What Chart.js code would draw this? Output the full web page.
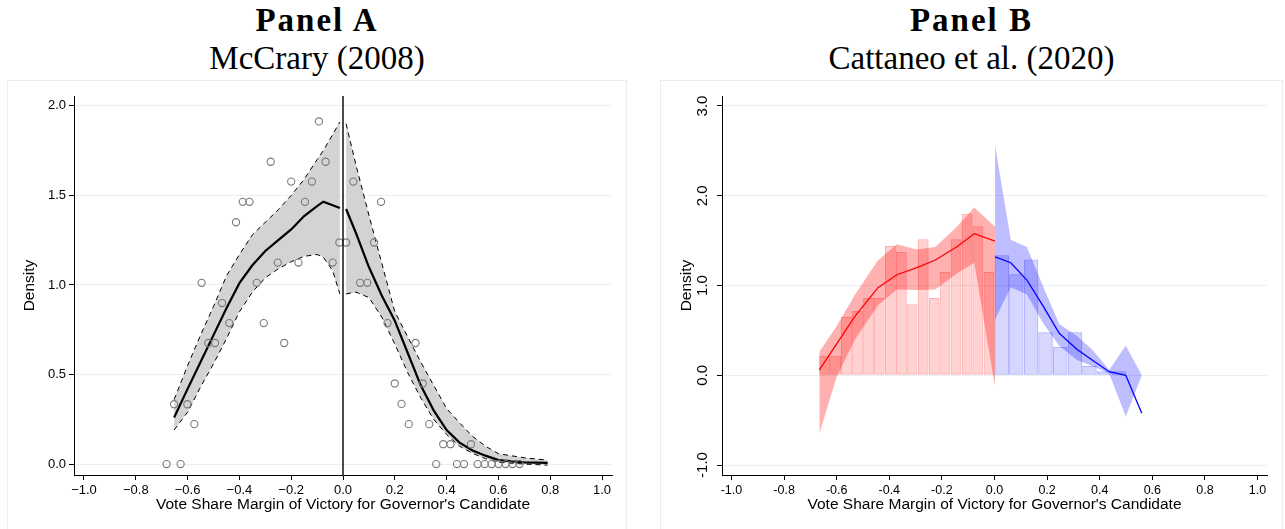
<!DOCTYPE html>
<html>
<head>
<meta charset="utf-8">
<script src="https://cdn.jsdelivr.net/npm/chart.js@4.4.1/dist/chart.umd.min.js"></script>
<style>
body { margin:0; background:#fff; width:1285px; height:529px; overflow:hidden; position:relative; }
.head { position:absolute; top:0; text-align:center; color:#000; font-family:"Liberation Serif", "Times New Roman", serif; }
.head .p { font-weight:bold; font-size:33px; letter-spacing:2px; line-height:36px; margin-top:2px; }
.head .s { font-size:33px; line-height:36px; margin-top:2px; }
.box { position:absolute; top:80px; height:449px; border:1px solid #e6eef0; border-bottom:none; }
canvas { display:block; }
</style>
</head>
<body>
<div class="head" style="left:7px;width:620px"><div class="p">Panel A</div><div class="s">McCrary (2008)</div></div>
<div class="head" style="left:660px;width:623px"><div class="p">Panel B</div><div class="s">Cattaneo et al. (2020)</div></div>
<div class="box" style="left:7px;width:618px"><canvas id="chartA" width="618" height="448"></canvas></div>
<div class="box" style="left:660px;width:621px"><canvas id="chartB" width="621" height="448"></canvas></div>
<script>
// ---- Panel A data (McCrary) ----
var binMidA = [-0.681,-0.652,-0.627,-0.601,-0.574,-0.546,-0.52,-0.494,-0.467,-0.439,-0.413,-0.387,-0.361,-0.333,-0.306,-0.279,-0.252,-0.227,-0.2,-0.172,-0.147,-0.12,-0.093,-0.067,-0.04,-0.014,
               0.012,0.04,0.066,0.094,0.12,0.147,0.172,0.2,0.226,0.254,0.28,0.308,0.333,0.36,0.387,0.415,0.44,0.467,0.494,0.52,0.547,0.574,0.601,0.628,0.655,0.682];
var binDensA = [0,0.334,0,0.334,0.223,1.012,0.676,0.676,0.899,0.787,1.35,1.464,1.464,1.012,0.787,1.688,1.125,0.676,1.577,1.125,1.464,1.577,1.913,1.688,1.125,1.237,
                1.237,1.577,1.012,1.012,1.237,1.464,0.787,0.45,0.336,0.223,0.676,0.45,0.223,0,0.111,0.111,0,0,0.111,0,0,0,0,0,0,0];

var fitLeftX = [-0.652,-0.6,-0.55,-0.5,-0.45,-0.4,-0.35,-0.3,-0.25,-0.2,-0.15,-0.1,-0.076,-0.04,-0.012];
var fitLeftY = [0.26,0.42,0.57,0.72,0.87,1.01,1.11,1.19,1.25,1.31,1.385,1.44,1.465,1.445,1.43];
var hiLeftY  = [0.36,0.55,0.72,0.88,1.05,1.17,1.28,1.35,1.42,1.5,1.59,1.7,1.75,1.84,1.91];
var loLeftY  = [0.19,0.29,0.43,0.56,0.7,0.85,0.96,1.04,1.09,1.13,1.16,1.17,1.155,1.08,0.95];

var fitRightX = [0.012,0.05,0.1,0.15,0.2,0.25,0.3,0.35,0.4,0.45,0.5,0.55,0.6,0.7,0.79];
var fitRightY = [1.424,1.29,1.1,0.94,0.8,0.62,0.44,0.3,0.19,0.12,0.076,0.047,0.022,0.01,0.007];
var hiRightY  = [1.9,1.67,1.39,1.12,0.85,0.71,0.57,0.44,0.31,0.23,0.155,0.1,0.058,0.035,0.022];
var loRightY  = [0.95,0.96,0.93,0.82,0.67,0.51,0.37,0.25,0.165,0.1,0.06,0.03,0.01,0.0,-0.006];

var cutoff = 0;
var xTicksA = [-1,-0.8,-0.6,-0.4,-0.2,0,0.2,0.4,0.6,0.8,1];
var xTickLabelsA = ['\u22121.0','\u22120.8','\u22120.6','\u22120.4','\u22120.2','0.0','0.2','0.4','0.6','0.8','1.0'];
var yTicksA = [0,0.5,1,1.5,2];
var yTickLabelsA = ['0.0','0.5','1.0','1.5','2.0'];

// ---- Panel B data (Cattaneo et al.) ----
var redBinMid = [-0.646,-0.604,-0.563,-0.521,-0.479,-0.438,-0.396,-0.354,-0.313,-0.271,-0.229,-0.188,-0.146,-0.104,-0.063,-0.021];
var redBinHeight = [0.218,0.218,0.649,0.716,0.861,0.861,1.44,1.373,0.79,1.514,0.861,1.15,1.514,1.8,1.659,1.15];
var blueBinMid = [0.028,0.083,0.139,0.194,0.25,0.306,0.361,0.417,0.472];
var blueBinHeight = [1.336,1.125,1.29,0.478,0.319,0.478,0.104,0.045,0.045];

var redX  = [-0.666,-0.6,-0.53,-0.443,-0.371,-0.295,-0.225,-0.143,-0.077,0.002];
var redY  = [0.06,0.35,0.66,0.976,1.12,1.2,1.284,1.432,1.577,1.495];
var redHi = [0.26,0.55,0.9,1.28,1.46,1.4,1.43,1.655,1.87,1.655];
var redLo = [-0.65,-0.02,0.4,0.78,0.955,0.95,0.955,1.135,1.254,-0.127];

var blueX  = [0.002,0.062,0.123,0.185,0.246,0.313,0.374,0.436,0.499,0.56];
var blueY  = [1.32,1.254,1.061,0.77,0.468,0.29,0.165,0.04,0.0,-0.423];
var blueHi = [2.56,1.51,1.43,0.99,0.57,0.44,0.28,0.06,0.33,0.0];
var blueLo = [0.62,0.98,0.9,0.58,0.33,0.17,0.1,0.02,-0.46,0.0];

var xTicksB = [-1,-0.8,-0.6,-0.4,-0.2,0,0.2,0.4,0.6,0.8,1];
var xTickLabelsB = ['-1.0','-0.8','-0.6','-0.4','-0.2','0.0','0.2','0.4','0.6','0.8','1.0'];
var yTicksB = [-1,0,1,2,3];
var yTickLabelsB = ['-1.0','0.0','1.0','2.0','3.0'];

var xTitle = "Vote Share Margin of Victory for Governor's Candidate";
var yTitle = 'Density';

Chart.defaults.font.family = "'Liberation Sans', Arial, sans-serif";
Chart.defaults.color = '#000';

function pts(xs, ys) {
  return xs.map(function (x, i) { return { x: x, y: ys[i] }; });
}
function fixTicks(list) {
  return function (s) { s.ticks = list.map(function (v) { return { value: v }; }); };
}

var gridColor = '#e8f0f1';

var cutoffLine = {
  id: 'cutoffLine',
  afterDatasetsDraw: function (chart) {
    var x = chart.scales.x.getPixelForValue(cutoff);
    var a = chart.chartArea, c = chart.ctx;
    c.save();
    c.strokeStyle = '#000';
    c.lineWidth = 1.4;
    c.beginPath();
    c.moveTo(x, a.top);
    c.lineTo(x, a.bottom);
    c.stroke();
    c.restore();
  }
};

function lineSet(data, color, width, dash, order) {
  return { type: 'line', data: data, borderColor: color, borderWidth: width, borderDash: dash || [],
           pointRadius: 0, fill: false, tension: 0, order: order };
}

// Panel A
new Chart(document.getElementById('chartA'), {
  type: 'line',
  data: {
    datasets: [
      lineSet(pts(fitLeftX, loLeftY), '#000', 1, [5, 4], 5),
      Object.assign(lineSet(pts(fitLeftX, hiLeftY), '#000', 1, [5, 4], 6), { fill: '-1', backgroundColor: '#d3d3d3' }),
      lineSet(pts(fitRightX, loRightY), '#000', 1, [5, 4], 5),
      Object.assign(lineSet(pts(fitRightX, hiRightY), '#000', 1, [5, 4], 6), { fill: '-1', backgroundColor: '#d3d3d3' }),
      lineSet(pts(fitLeftX, fitLeftY), '#000', 2.2, null, 2),
      lineSet(pts(fitRightX, fitRightY), '#000', 2.2, null, 2),
      { type: 'line', data: pts(binMidA, binDensA), showLine: false, pointRadius: 3.6, pointBorderWidth: 1.1,
        pointBorderColor: '#7a7a7a', pointBackgroundColor: 'rgba(0,0,0,0)', order: 1 }
    ]
  },
  options: {
    responsive: false, animation: false,
    layout: { padding: { left: 0, top: 15, right: 14, bottom: 0 } },
    plugins: { legend: { display: false }, tooltip: { enabled: false } },
    scales: {
      x: {
        type: 'linear', min: -1.0386, max: 1.0386,
        afterBuildTicks: fixTicks(xTicksA),
        afterFit: function (s) { s.height = 54; },
        grid: { drawOnChartArea: false, tickLength: 5, tickColor: '#000' },
        border: { color: '#000', width: 1 },
        ticks: { autoSkip: false, maxRotation: 0, padding: 3, font: { size: 13 },
                 callback: function (v, i) { return xTickLabelsA[i]; } },
        title: { display: true, text: xTitle, font: { size: 15.5 }, padding: { top: 0, bottom: 15 } }
      },
      y: {
        type: 'linear', min: -0.061, max: 2.055,
        afterBuildTicks: fixTicks(yTicksA),
        afterFit: function (s) { s.width = 66; },
        grid: { color: gridColor, tickLength: 5, tickColor: '#000' },
        border: { color: '#000', width: 1 },
        ticks: { padding: 3, font: { size: 13 }, callback: function (v, i) { return yTickLabelsA[i]; } },
        title: { display: true, text: yTitle, font: { size: 15.5 }, padding: { top: 12.5, bottom: 0 } }
      }
    }
  },
  plugins: [cutoffLine]
});

// Panel B: bars sit on their own hidden x axes so each histogram gets its own bin width
var xMinB = -1.036, xMaxB = 1.036;
function hiddenX() {
  return { type: 'linear', display: false, offset: false, min: xMinB, max: xMaxB,
           afterBuildTicks: fixTicks(xTicksB), grid: { offset: false } };
}
function bandSet(data, fill, color, order) {
  return { type: 'line', data: data, borderWidth: 0, borderColor: 'rgba(0,0,0,0)', pointRadius: 0,
           tension: 0, fill: fill, backgroundColor: color, order: order };
}
function histSet(axis, data, fillColor, lineColor) {
  return { type: 'bar', xAxisID: axis, data: data, backgroundColor: fillColor, borderColor: lineColor,
           borderWidth: 1, borderSkipped: false, grouped: false, barPercentage: 1, categoryPercentage: 1,
           inflateAmount: 0, order: 9 };
}

new Chart(document.getElementById('chartB'), {
  type: 'line',
  data: {
    datasets: [
      histSet('xr', pts(redBinMid, redBinHeight), 'rgba(255,0,0,0.18)', 'rgba(255,0,0,0.32)'),
      histSet('xb', pts(blueBinMid, blueBinHeight), 'rgba(0,0,255,0.16)', 'rgba(0,0,255,0.32)'),
      bandSet(pts(redX, redLo), false, 'rgba(0,0,0,0)', 6),
      bandSet(pts(redX, redHi), '-1', 'rgba(255,0,0,0.31)', 6),
      bandSet(pts(blueX, blueLo), false, 'rgba(0,0,0,0)', 5),
      bandSet(pts(blueX, blueHi), '-1', 'rgba(0,0,255,0.26)', 5),
      lineSet(pts(redX, redY), '#ff0000', 1.3, null, 1),
      lineSet(pts(blueX, blueY), '#0000ff', 1.3, null, 1)
    ]
  },
  options: {
    responsive: false, animation: false,
    layout: { padding: { left: 0, top: 15, right: 15, bottom: 0 } },
    plugins: { legend: { display: false }, tooltip: { enabled: false } },
    scales: {
      x: {
        type: 'linear', min: xMinB, max: xMaxB,
        afterBuildTicks: fixTicks(xTicksB),
        afterFit: function (s) { s.height = 54; },
        grid: { drawOnChartArea: false, tickLength: 5, tickColor: '#000' },
        border: { color: '#000', width: 1 },
        ticks: { autoSkip: false, maxRotation: 0, padding: 3, font: { size: 12.5 },
                 callback: function (v, i) { return xTickLabelsB[i]; } },
        title: { display: true, text: xTitle, font: { size: 15.5 }, padding: { top: 0, bottom: 15 } }
      },
      xr: hiddenX(),
      xb: hiddenX(),
      y: {
        type: 'linear', min: -1.111, max: 3.111,
        afterBuildTicks: fixTicks(yTicksB),
        afterFit: function (s) { s.width = 61; },
        grid: { color: gridColor, tickLength: 5, tickColor: '#000' },
        border: { color: '#000', width: 1 },
        ticks: { minRotation: 90, maxRotation: 90, crossAlign: 'center', padding: 1.5, font: { size: 15 },
                 callback: function (v, i) { return yTickLabelsB[i]; } },
        title: { display: true, text: yTitle, font: { size: 15.5 }, padding: { top: 16.5, bottom: 0 } }
      }
    }
  }
});
</script>
</body>
</html>
